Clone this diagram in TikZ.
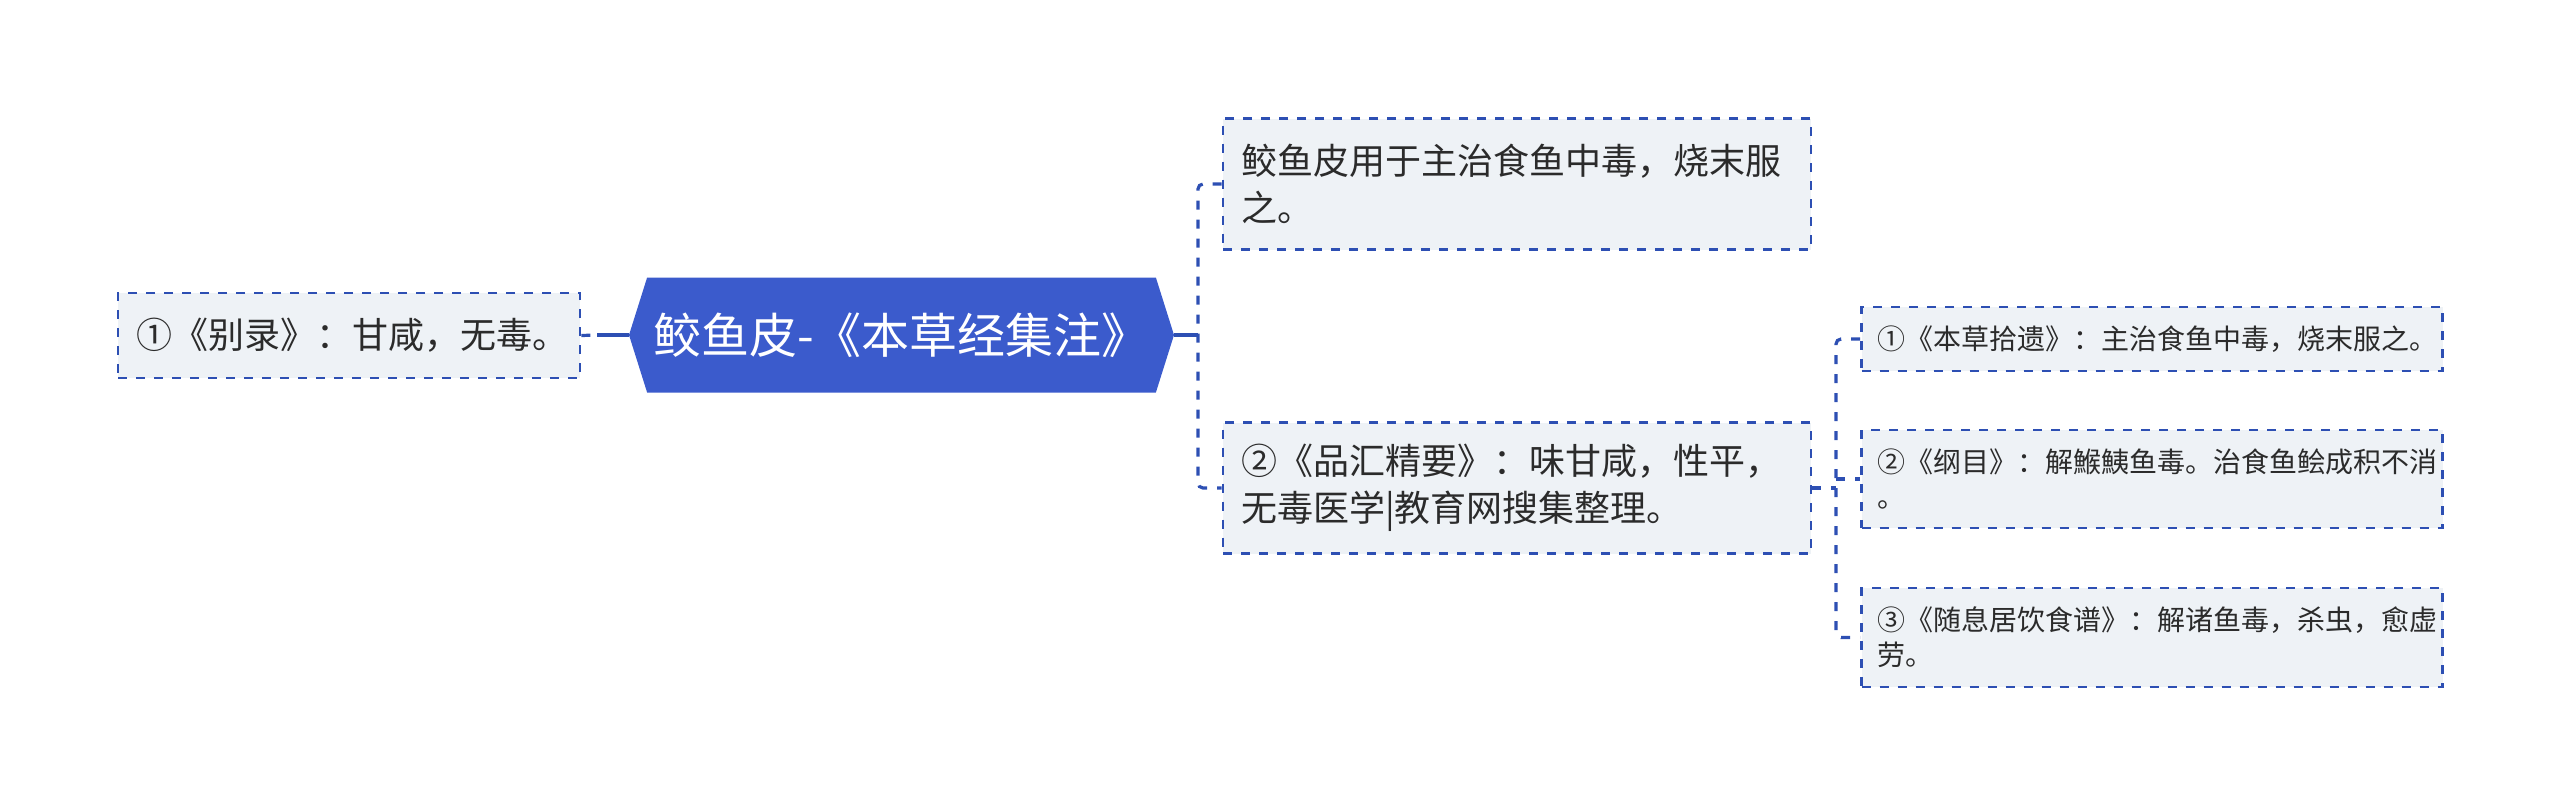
\documentclass[tikz,border=0pt]{standalone}
\usepackage{fontspec}
\setmainfont{Noto Sans CJK SC}
\usetikzlibrary{shapes.symbols}
\definecolor{rootblue}{HTML}{3B5BCC}
\definecolor{linkblue}{HTML}{2D4FB3}
\definecolor{notefill}{HTML}{EEF2F6}
\definecolor{inkgray}{HTML}{2B2B2B}
\tikzset{
	notebox/.style  = {shape=rectangle, draw=linkblue, fill=notefill,
		line width=1.3pt, dash pattern=on 4.5pt off 4.5pt,
		anchor=center, align=left, text=inkgray,
		font=\fontsize{18pt}{23.5pt}\selectfont,
		inner xsep=9pt, inner ysep=0pt},
	subbox/.style   = {notebox, font=\fontsize{14pt}{17.5pt}\selectfont,
		inner xsep=8pt, text width=274.5pt},
	rootnode/.style = {shape=signal, signal to=west and east,
		signal pointer angle=145, fill=rootblue, text=white,
		font=\fontsize{24pt}{29pt}\selectfont,
		minimum width=272.5pt, minimum height=57.5pt, inner sep=0pt},
	solidlink/.style = {draw=linkblue, line width=1.6pt},
	dashlink/.style  = {solidlink, dash pattern=on 4.5pt off 5pt,
		rounded corners=2.5pt}
}

\begin{document}
\begin{tikzpicture}[x=0.5pt, y=-0.5pt]
	\useasboundingbox (0,0) rectangle (2560,805);
	\node [rootnode] at (901.5,335) (root) {鲛鱼皮-《本草经集注》};
	\node [notebox, text width=213pt, minimum height=42.5pt] at (349,335.5) (bielu) {①《别录》：甘咸，无毒。};
	\node [notebox, text width=276pt, minimum height=65.5pt] at (1517,184) (shiyu) {鲛鱼皮用于主治食鱼中毒，烧末服\\之。};
	\node [notebox, text width=276pt, minimum height=65.5pt] at (1517,488) (pinhui) {②《品汇精要》：味甘咸，性平，\\无毒医学|教育网搜集整理。};
	\node [subbox, minimum height=32pt] at (2152,339) (shiyi) {①《本草拾遗》：主治食鱼中毒，烧末服之。};
	\node [subbox, minimum height=49pt] at (2152,479) (gangmu) {②《纲目》：解鯸鮧鱼毒。治食鱼鲙成积不消\\。};
	\node [subbox, minimum height=49.5pt] at (2152,637.5) (suixi) {③《随息居饮食谱》：解诸鱼毒，杀虫，愈虚\\劳。};

	\coordinate (leftjoin) at (597,335);
	\draw [dashlink] (bielu.east) -- (leftjoin);
	\draw [solidlink] (leftjoin) -- (root.west);
	\coordinate (busA) at (1198,335);
	\draw [solidlink] (root.east) -- (busA);
	\draw [dashlink] (shiyu.west) -| (busA) |- (pinhui.west);
	\coordinate (busB) at (1836,488);
	\draw [dashlink] (pinhui.east) -- (busB);
	\draw [dashlink] (shiyi.west) -| (busB) |- (suixi.west);
	\draw [dashlink] (busB |- gangmu.west) -- (gangmu.west);
\end{tikzpicture}
\end{document}
